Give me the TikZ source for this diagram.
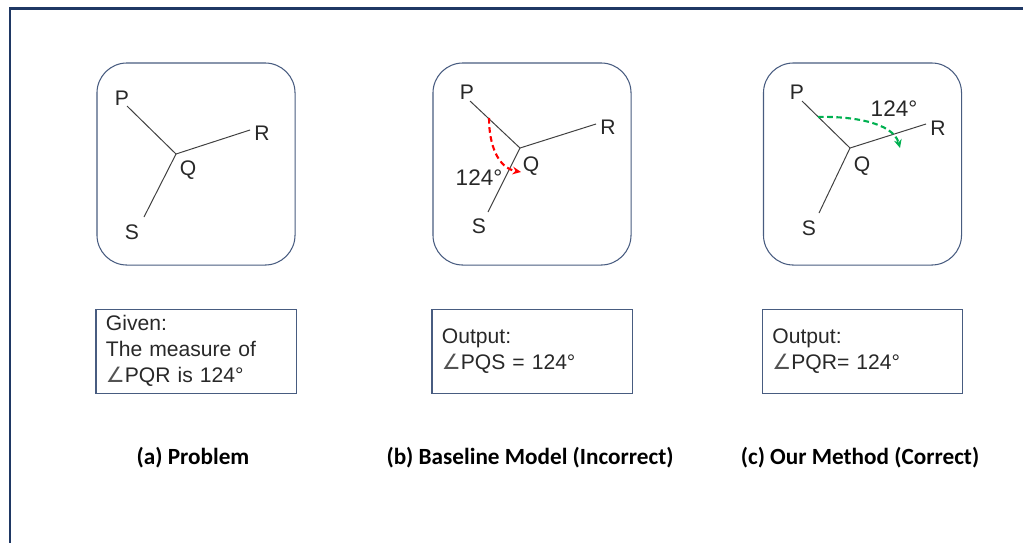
\documentclass[tikz,border=0pt]{standalone}
\usepackage{fontspec}
\setmainfont{Liberation Sans}
\newfontfamily\captionfont{Carlito}
\newfontfamily\anglefont{DejaVu Sans}
\usepackage{tikz}
\usetikzlibrary{arrows.meta,positioning}
\definecolor{framenavy}{RGB}{31,56,100}
\definecolor{boxgray}{RGB}{72,92,128}
\definecolor{linegray}{RGB}{64,64,64}
\definecolor{textgray}{RGB}{40,40,40}
\definecolor{wrongred}{RGB}{255,0,0}
\definecolor{rightgreen}{RGB}{0,176,80}
\newcommand{\angsym}{{\anglefont\color{textgray!80}∠}}

\begin{document}
\begin{tikzpicture}[x=0.025cm, y=-0.025cm,
    panel/.style={draw=boxgray, line width=0.75pt, rounded corners=0.75cm,
                  minimum width=4.95cm, minimum height=5.05cm},
    textbox/.style={draw=boxgray, line width=0.75pt, text width=4.5cm, align=left,
                    inner xsep=0.25cm, minimum height=2.1cm, text=textgray,
                    font=\fontsize{15}{18.5}\selectfont},
    ptlabel/.style={font=\fontsize{15}{17}\selectfont, text=textgray, inner sep=0pt},
    anglabel/.style={font=\fontsize{16}{18}\selectfont, text=textgray, inner sep=0pt},
    caption/.style={font=\captionfont\bfseries\fontsize{16.5}{19}\selectfont},
    seg/.style={draw=linegray, line width=0.7pt},
    arr/.style={-{Stealth[length=6pt,width=5.5pt]}, line width=1.5pt,
                dash pattern=on 4pt off 2.5pt}]

    \useasboundingbox (0,0) rectangle (1023,542);
    \draw[framenavy, line width=1.5pt] (10,560) -- (10,8.5) -- (1040,8.5);

    \node[panel] (panela) at (196,164) {};
    \node[panel] (panelb) at (532,164) {};
    \node[panel] (panelc) at (862.5,164) {};

    \node[textbox, below=1.075cm of panela] (givena) {Given:\\The measure of\\\angsym PQR is 124°};
    \node[textbox, below=1.075cm of panelb] (outb) {Output:\\\angsym PQS = 124°};
    \node[textbox, below=1.075cm of panelc] (outc) {Output:\\\angsym PQR= 124°};

    \node[caption] (capa) at (193,458) {(a) Problem};
    \node[caption] (capb) at (530,458) {(b) Baseline Model (Incorrect)};
    \node[caption] (capc) at (860,458) {(c) Our Method (Correct)};

    \coordinate (qa) at (176,154);
    \coordinate (pa) at (127,106);
    \coordinate (ra) at (250,130);
    \coordinate (sa) at (144,217);
    \draw[seg] (pa) -- (qa) -- (ra);
    \draw[seg] (qa) -- (sa);
    \node[ptlabel] (lpa) at (122,98.5) {P};
    \node[ptlabel] (lqa) at (188,170) {Q};
    \node[ptlabel] (lra) at (262,133) {R};
    \node[ptlabel] (lsa) at (132,232) {S};

    \coordinate (qb) at (520,148);
    \coordinate (pb) at (470,101);
    \coordinate (rb) at (596,124);
    \coordinate (sb) at (488,212);
    \draw[seg] (pb) -- (qb) -- (rb);
    \draw[seg] (qb) -- (sb);
    \node[ptlabel] (lpb) at (467,92) {P};
    \node[ptlabel] (lqb) at (531,166) {Q};
    \node[ptlabel] (lrb) at (608,127) {R};
    \node[ptlabel] (lsb) at (479,226) {S};
    \node[anglabel] (angb) at (479,178) {124°};
    \coordinate (fromb) at (489,118);
    \coordinate (tob) at (521,172);
    \draw[arr, wrongred] (fromb) .. controls (489,145) and (498,168) .. (tob);

    \coordinate (qc) at (850,148);
    \coordinate (pc) at (802,101);
    \coordinate (rc) at (926,124);
    \coordinate (sc) at (819,213);
    \draw[seg] (pc) -- (qc) -- (rc);
    \draw[seg] (qc) -- (sc);
    \node[ptlabel] (lpc) at (797,92) {P};
    \node[ptlabel] (lqc) at (862,166) {Q};
    \node[ptlabel] (lrc) at (938,128) {R};
    \node[ptlabel] (lsc) at (809,228) {S};
    \node[anglabel] (angc) at (894,109) {124°};
    \coordinate (fromc) at (818,117);
    \coordinate (toc) at (900,148);
    \draw[arr, rightgreen] (fromc) .. controls (850,116) and (893,122) .. (toc);
\end{tikzpicture}
\end{document}
